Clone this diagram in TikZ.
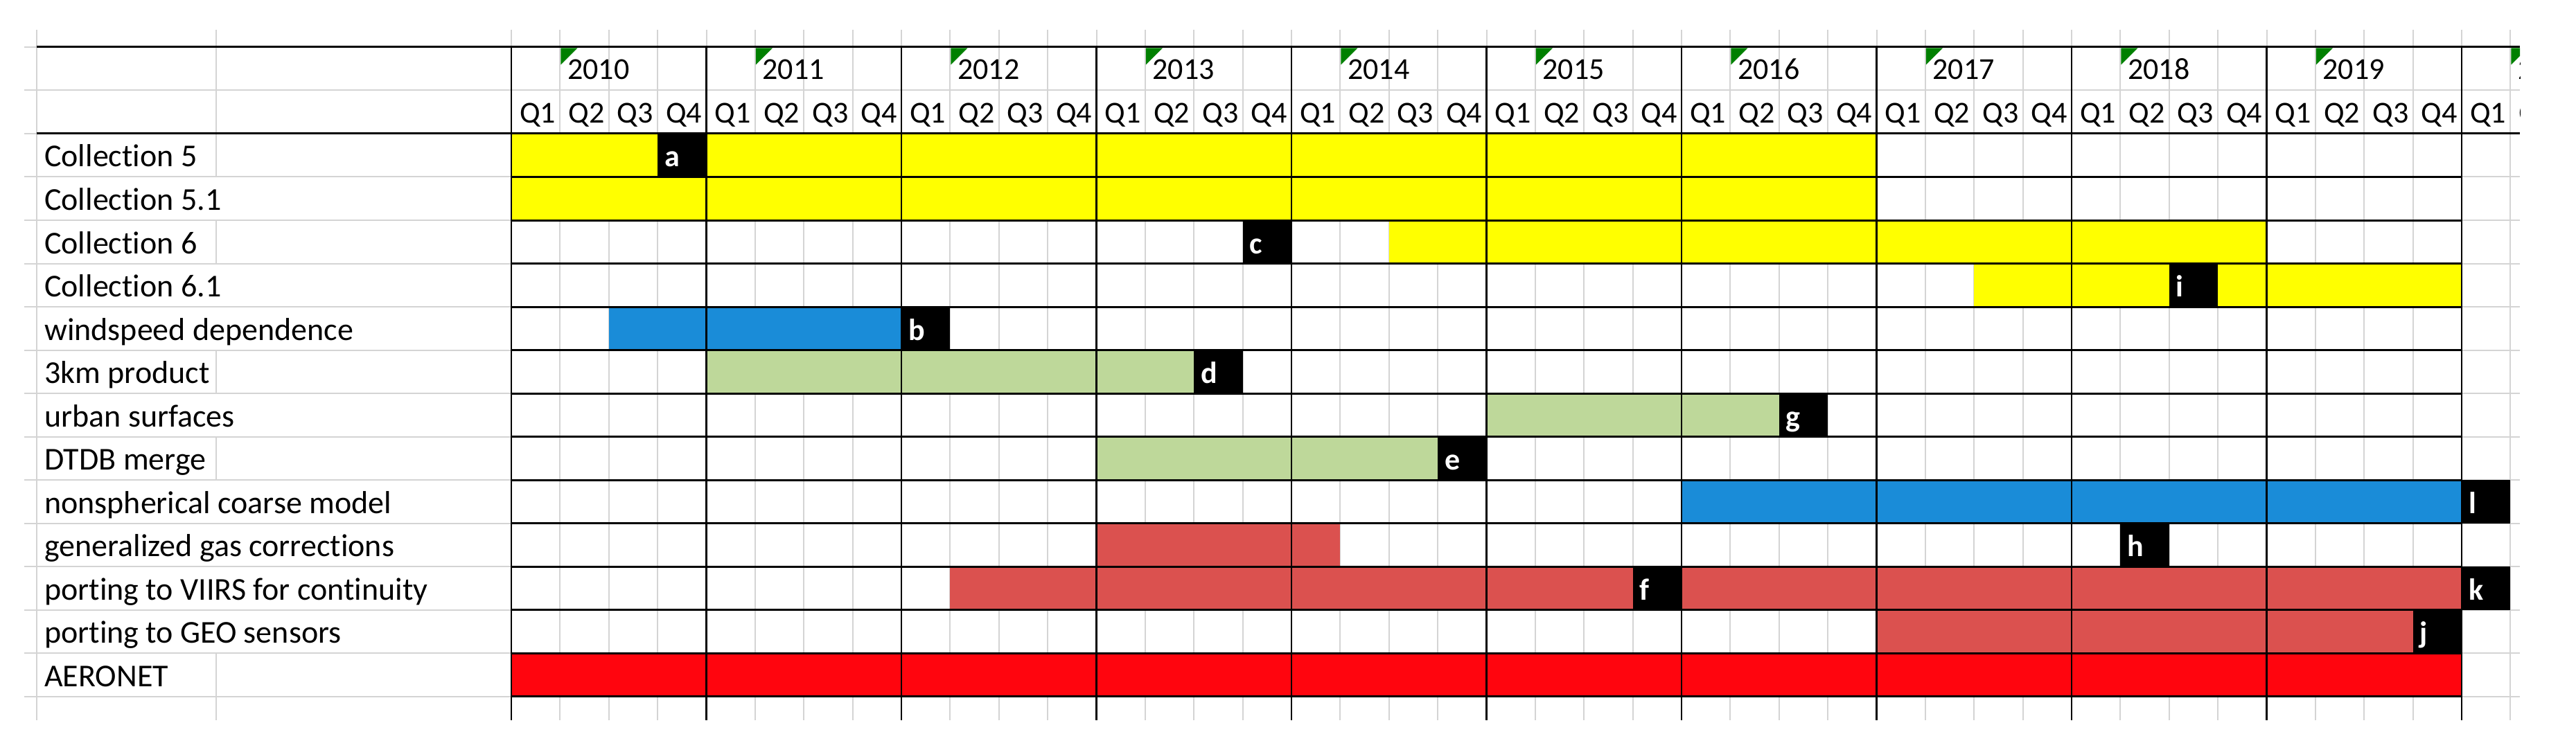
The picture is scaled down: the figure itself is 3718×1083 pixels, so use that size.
\documentclass[tikz,border=0pt]{standalone}
\usepackage{fontspec}
\setmainfont{Carlito}[Ligatures={NoCommon}]
\definecolor{gridgray}{RGB}{212,212,212}
\definecolor{ylw}{RGB}{255,255,0}
\definecolor{blu}{RGB}{26,140,216}
\definecolor{grn}{RGB}{190,216,154}
\definecolor{mred}{RGB}{219,81,79}
\definecolor{bred}{RGB}{255,5,14}
\definecolor{tri}{RGB}{0,128,0}
\newcommand\qx[1]{738+70.375*(#1)}
\newcommand\ry[1]{193+62.5*(#1)}
\newcommand\gbar[4]{\fill[#4] ({\qx{#2}},{\ry{#1}}) rectangle ({\qx{#3+1}},{\ry{#1+1}});}
\newcommand\gtag[3]{\fill[black] ({\qx{#2}},{\ry{#1}}) rectangle ({\qx{#2+1}},{\ry{#1+1}});
  \node[tagtxt] (tag-#3) at ({\qx{#2}+10},{\ry{#1+1}-14.5}) {#3};}
\begin{document}
\begin{tikzpicture}[x=1pt,y=-1pt,
  light/.style={draw=gridgray,line width=2pt},
  heavyh/.style={draw=black,line width=3pt},
  heavyv/.style={draw=black,line width=2.5pt},
  lbl/.style={anchor=base west,inner sep=0pt,font=\fontsize{46}{50}\selectfont},
  hdr/.style={anchor=base west,inner sep=0pt,font=\fontsize{44}{50}\selectfont},
  tagtxt/.style={anchor=base west,inner sep=0pt,text=white,font=\fontsize{44}{50}\selectfont\bfseries}]
\useasboundingbox (0,0) rectangle (3718,1083);
\fill[white] (0,0) rectangle (3718,1083);
\begin{scope}
\clip (0,0) rectangle (3637,1083);
% light grid
\foreach \n in {0,...,41} \draw[light] ({\qx{\n}},43) -- ({\qx{\n}},1040);
\draw[light] (53,43) -- (53,1040);
\draw[light] (312,43) -- (312,255.5);
\draw[light] (312,318) -- (312,380.5);
\draw[light] (312,505.5) -- (312,568);
\draw[light] (312,630.5) -- (312,693);
\draw[light] (312,943) -- (312,1040);
\draw[light] (35,68) -- (3637,68);
\foreach \k in {-1,...,13} \draw[light] (35,{\ry{\k}}) -- (3637,{\ry{\k}});
% bars
\gbar{0}{0}{27}{ylw}
\gbar{1}{0}{27}{ylw}
\gbar{2}{18}{35}{ylw}
\gbar{3}{30}{39}{ylw}
\gbar{4}{2}{7}{blu}
\gbar{5}{4}{13}{grn}
\gbar{6}{20}{25}{grn}
\gbar{7}{12}{18}{grn}
\gbar{8}{24}{39}{blu}
\gbar{9}{12}{16}{mred}
\gbar{10}{9}{22}{mred}
\gbar{10}{24}{39}{mred}
\gbar{11}{28}{38}{mred}
\gbar{12}{0}{39}{bred}
% black rules
\draw[heavyh] (53,68) -- (3637,68);
\draw[heavyh] (53,193) -- (3637,193);
\foreach \k in {1,...,13} \draw[heavyh] (738,{\ry{\k}}) -- (3553,{\ry{\k}});
\foreach \j in {0,...,10} \draw[heavyv] ({738+281.5*\j},68) -- ({738+281.5*\j},1040);
% milestone tags
\gtag{0}{3}{a}
\gtag{4}{8}{b}
\gtag{2}{15}{c}
\gtag{5}{14}{d}
\gtag{7}{19}{e}
\gtag{10}{23}{f}
\gtag{6}{26}{g}
\gtag{9}{33}{h}
\gtag{3}{34}{i}
\gtag{11}{39}{j}
\gtag{10}{40}{k}
\gtag{8}{40}{l}
% header
\foreach \y in {0,...,10} {
  \fill[tri] ({\qx{4*\y+1}+1},69.5) -- ({\qx{4*\y+1}+25},69.5) -- ({\qx{4*\y+1}+1},93.5) -- cycle;
  \pgfmathtruncatemacro\yr{2010+\y}
  \node[hdr] (year-\yr) at ({\qx{4*\y+1}+10.5},115) {\yr};
}
\foreach \n in {0,...,41} {
  \pgfmathtruncatemacro\q{mod(\n,4)+1}
  \node[hdr] (q-\n) at ({\qx{\n}+12},178) {Q\q};
}
\end{scope}
% row labels
\node[lbl] (r0) at (64,{\ry{1}-14.5}) {Collection 5};
\node[lbl] (r1) at (64,{\ry{2}-14.5}) {Collection 5.1};
\node[lbl] (r2) at (64,{\ry{3}-14.5}) {Collection 6};
\node[lbl] (r3) at (64,{\ry{4}-14.5}) {Collection 6.1};
\node[lbl] (r4) at (64,{\ry{5}-14.5}) {windspeed dependence};
\node[lbl] (r5) at (64,{\ry{6}-14.5}) {3km product};
\node[lbl] (r6) at (64,{\ry{7}-14.5}) {urban surfaces};
\node[lbl] (r7) at (64,{\ry{8}-14.5}) {DTDB merge};
\node[lbl] (r8) at (64,{\ry{9}-14.5}) {nonspherical coarse model};
\node[lbl] (r9) at (64,{\ry{10}-14.5}) {generalized gas corrections};
\node[lbl] (r10) at (64,{\ry{11}-14.5}) {porting to VIIRS for continuity};
\node[lbl] (r11) at (64,{\ry{12}-14.5}) {porting to GEO sensors};
\node[lbl] (r12) at (64,{\ry{13}-14.5}) {AERONET};
\end{tikzpicture}
\end{document}
